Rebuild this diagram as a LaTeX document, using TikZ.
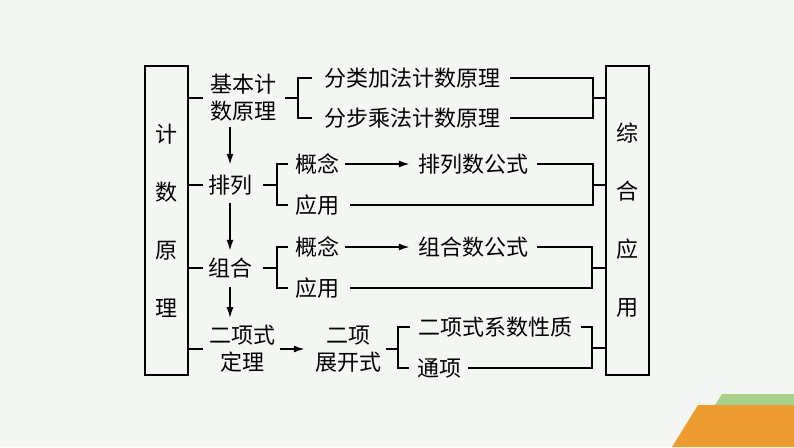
\documentclass[tikz,border=0pt]{standalone}
\usepackage{fontspec}
\newfontfamily\cjk{Noto Sans CJK SC}
\usetikzlibrary{arrows.meta,calc}
\definecolor{bgc}{HTML}{F3F6F2}
\definecolor{grn}{HTML}{A8D08D}
\definecolor{org}{HTML}{EC9C2E}
\begin{document}
\begin{tikzpicture}[x=1pt,y=-1pt,
  ln/.style={line width=1.7pt, draw=black},
  arr/.style={ln, -{Latex[length=11pt,width=7pt]}},
  txt/.style={inner sep=0pt, font=\cjk\fontsize{22}{26}\selectfont, text height=19pt, text depth=3pt},
  txt2/.style={inner sep=0pt, font=\cjk\fontsize{22}{27}\selectfont, align=center},
  vbox/.style={draw, line width=1.7pt, minimum width=43pt, minimum height=309pt, inner sep=0pt, align=center, font=\cjk\fontsize{22}{58}\selectfont}]
\fill[bgc] (0,0) rectangle (794,447);
\useasboundingbox (0,0) rectangle (794,447);
\fill[grn] (722,394) -- (794,394) -- (794,405) -- (715,405) -- cycle;
\fill[org] (698,405) -- (794,405) -- (794,447) -- (672,447) -- cycle;

\node[vbox] (L) at (166.5,220.5) {计\\数\\原\\理};
\node[vbox] (R) at (627.5,220.5) {综\\合\\应\\用};

\node[txt2] (jb) at (243,98) {基本计\\数原理};
\node[txt] (fl) at (412,78) {分类加法计数原理};
\node[txt] (fb) at (412,118) {分步乘法计数原理};
\node[txt] (pl) at (230,185) {排列};
\node[txt] (gn1) at (317,164) {概念};
\node[txt] (pls) at (473,164) {排列数公式};
\node[txt] (yy1) at (317,205) {应用};
\node[txt] (zh) at (230,268) {组合};
\node[txt] (gn2) at (317,247) {概念};
\node[txt] (zhs) at (473,247) {组合数公式};
\node[txt] (yy2) at (317,288) {应用};
\node[txt2] (ex) at (242,349) {二项式\\定理};
\node[txt2] (zk) at (348,349) {二项\\展开式};
\node[txt] (xs) at (495,327) {二项式系数性质};
\node[txt] (tx) at (439,368) {通项};

\coordinate (b1) at (298,98);
\coordinate (r1) at (593,98);
\coordinate (b2) at (277,185);
\coordinate (r2) at (593,185);
\coordinate (b3) at (277,268);
\coordinate (r3) at (592,268);
\coordinate (b4) at (398,349);
\coordinate (r4) at (592,348);

% left ticks
\draw[ln] (L.east |- jb) -- ([xshift=-7pt]jb.west);
\draw[ln] (L.east |- pl) -- ([xshift=-5pt]pl.west);
\draw[ln] (L.east |- zh) -- ([xshift=-5pt]zh.west);
\draw[ln] (L.east |- ex) -- ([xshift=-6pt]ex.west);

% basic counting principles
\draw[ln] ([xshift=9pt]jb.east) -- (b1);
\draw[ln] ([xshift=-12pt]fl.west) -| (b1);
\draw[ln] ([xshift=-12pt]fb.west) -| (b1);
\draw[ln] ([xshift=10pt]fl.east) -| (r1);
\draw[ln] ([xshift=10pt]fb.east) -| (r1);
\draw[ln] (r1) -- (R.west |- r1);

% vertical arrows
\draw[arr] ([yshift=-5pt]jb.south -| pl) -- ([yshift=9pt]pl.north);
\draw[arr] ([yshift=-7pt]pl.south) -- ([yshift=6pt]zh.north);
\draw[arr] ([yshift=-8pt]zh.south) -- ([yshift=7pt]ex.north -| zh);

% permutations
\draw[ln] ([xshift=11pt]pl.east) -- (b2);
\draw[ln] ([xshift=-7pt]gn1.west) -| (b2 |- yy1) -- ([xshift=-7pt]yy1.west);
\draw[arr] ([xshift=6pt]gn1.east) -- ([xshift=-8pt]pls.west);
\draw[ln] ([xshift=9pt]pls.east) -| (r2 |- yy1) -- ([xshift=11pt]yy1.east);
\draw[ln] (r2) -- (R.west |- r2);

% combinations
\draw[ln] ([xshift=11pt]zh.east) -- (b3);
\draw[ln] ([xshift=-7pt]gn2.west) -| (b3 |- yy2) -- ([xshift=-7pt]yy2.west);
\draw[arr] ([xshift=6pt]gn2.east) -- ([xshift=-8pt]zhs.west);
\draw[ln] ([xshift=9pt]zhs.east) -| (r3 |- yy2) -- ([xshift=11pt]yy2.east);
\draw[ln] (r3) -- (R.west |- r3);

% binomial theorem
\draw[arr] ([xshift=5pt]ex.east) -- ([xshift=-10pt]zk.west);
\draw[ln] ([xshift=5pt]zk.east) -- (b4);
\draw[ln] ([xshift=-8pt]xs.west) -| (b4 |- tx) -- ([xshift=-8pt]tx.west);
\draw[ln] ([xshift=9pt]xs.east) -| (r4 |- tx) -- ([xshift=7pt]tx.east);
\draw[ln] (r4) -- (R.west |- r4);
\end{tikzpicture}
\end{document}
